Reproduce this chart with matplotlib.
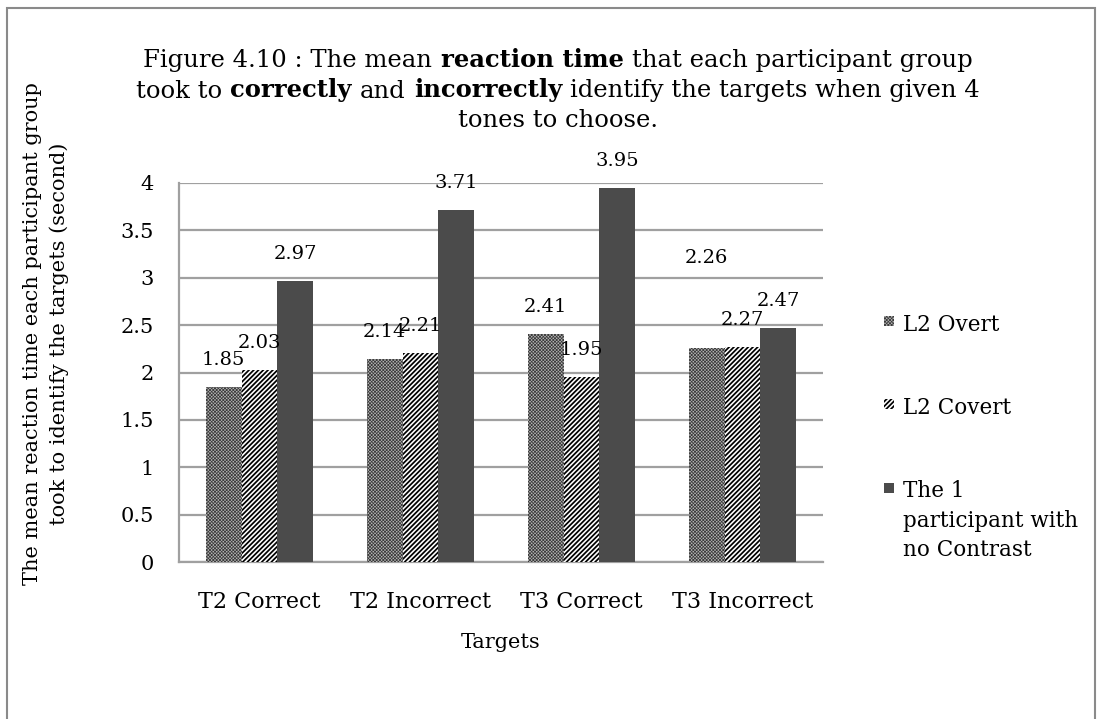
import matplotlib
matplotlib.use("Agg")
import matplotlib.pyplot as plt
import numpy as np
from matplotlib.patches import Rectangle
from matplotlib.offsetbox import TextArea, HPacker, VPacker, AnnotationBbox

# ---------------- data ----------------
categories = ["T2 Correct", "T2 Incorrect", "T3 Correct", "T3 Incorrect"]
series_names = ["L2 Overt", "L2 Covert", "The 1\nparticipant with\nno Contrast"]
l2_overt = [1.85, 2.14, 2.41, 2.26]
l2_covert = [2.03, 2.21, 1.95, 2.27]
no_contrast = [2.97, 3.71, 3.95, 2.47]
yticks = [0, 0.5, 1, 1.5, 2, 2.5, 3, 3.5, 4]
ytick_labels = ["0", "0.5", "1", "1.5", "2", "2.5", "3", "3.5", "4"]
x_title = "Targets"
y_title = "The mean reaction time each participant group\ntook to identify the targets (second)"
title_lines = [
    [("Figure 4.10 : The mean", "normal"), ("reaction time", "bold"),
     ("that each participant group", "normal")],
    [("took to", "normal"), ("correctly", "bold"), ("and", "normal"),
     ("incorrectly", "bold"), ("identify the targets when given 4", "normal")],
    [("tones to choose.", "normal")],
]

# ---------------- style ----------------
FONT = "DejaVu Serif"
plt.rcParams["font.family"] = [FONT, "DejaVu Sans"]
W, H = 1101, 719
fig = plt.figure(figsize=(W / 100, H / 100), dpi=100)

def fx(px):
    return px / W

def fy(py):
    return 1 - py / H

ax = fig.add_axes([fx(179), fy(562), fx(823) - fx(179), fy(183) - fy(562)])

series = [l2_overt, l2_covert, no_contrast]
styles = [
    dict(facecolor="#b4b4b4", edgecolor="#3c3c3c", hatch="xxxxxxxxxx", hlw=0.55),
    dict(facecolor="white", edgecolor="black", hatch="///////", hlw=1.25),
    dict(facecolor="#4b4b4b", edgecolor="#4b4b4b", hatch=None, hlw=1.0),
]
n = len(series)
bw = 1.0 / (n + 1.5)
x = np.arange(len(categories))
label_px_offset = 27
extra_offset = {(0, 3): 63}   # the dragged "2.26" label

for i, (vals, st) in enumerate(zip(series, styles)):
    with plt.rc_context({"hatch.linewidth": st["hlw"]}):
        bars = ax.bar(x + (i - 1) * bw, vals, width=bw, facecolor=st["facecolor"],
                      edgecolor=st["edgecolor"], hatch=st["hatch"], linewidth=0,
                      zorder=3)
    for j, (b, v) in enumerate(zip(bars, vals)):
        off = (label_px_offset + extra_offset.get((i, j), 0)) * 0.72
        ax.annotate(f"{v:.2f}", (b.get_x() + b.get_width() / 2, v),
                    xytext=(0, off), textcoords="offset points",
                    ha="center", va="center", fontsize=14, color="black",
                    zorder=5)

ax.set_xlim(-0.5, len(categories) - 0.5)
ax.set_ylim(0, 4)
ax.set_yticks(yticks)
ax.set_yticklabels(ytick_labels, fontsize=15)
ax.set_xticks(x)
ax.set_xticklabels(categories, fontsize=16)
ax.tick_params(axis="both", length=0)
ax.tick_params(axis="y", pad=18)
ax.tick_params(axis="x", pad=21)
ax.grid(axis="y", color="#a0a0a0", linewidth=1.6, zorder=0)
ax.set_axisbelow(True)
for s in ["top", "right"]:
    ax.spines[s].set_visible(False)
for s in ["left", "bottom"]:
    ax.spines[s].set_color("#a0a0a0")
    ax.spines[s].set_linewidth(1.6)
ax.set_xlabel(x_title, fontsize=15, labelpad=14)

# y title
fig.text(fx(46), fy(334), y_title, rotation=90, ha="center", va="center",
         fontsize=15, multialignment="center", linespacing=1.5)

# title with mixed weights
rows = []
for line in title_lines:
    parts = [TextArea(t, textprops=dict(fontsize=17.5, fontweight=w, family=FONT))
             for t, w in line]
    rows.append(HPacker(children=parts, align="baseline", pad=0, sep=6))
title_box = VPacker(children=rows, align="center", pad=0, sep=5)
ab = AnnotationBbox(title_box, (fx(558), fy(90)), xycoords="figure fraction",
                    box_alignment=(0.5, 0.5), frameon=False)
fig.add_artist(ab)

# legend (manual, marker aligned with first line)
leg_y = [325, 408, 492]
for st, name, yy in zip(styles, series_names, leg_y):
    with plt.rc_context({"hatch.linewidth": st["hlw"]}):
        r = Rectangle((fx(884), fy(yy + 1)), fx(10), 10 / H,
                      transform=fig.transFigure, facecolor=st["facecolor"],
                      edgecolor=st["edgecolor"], hatch=st["hatch"], linewidth=0)
    fig.add_artist(r)
    if "\n" in name:
        fig.text(fx(903), fy(yy - 12), name, ha="left", va="top",
                 fontsize=15.5, linespacing=1.45)
    else:
        fig.text(fx(903), fy(yy), name, ha="left", va="center", fontsize=15.5)

# outer frame
frame = Rectangle((fx(7), fy(730)), fx(1095) - fx(7), fy(8) - fy(730),
                  transform=fig.transFigure, facecolor="none",
                  edgecolor="#8a8a8a", linewidth=1.5)
fig.add_artist(frame)

fig.savefig("out.png", dpi=100)
